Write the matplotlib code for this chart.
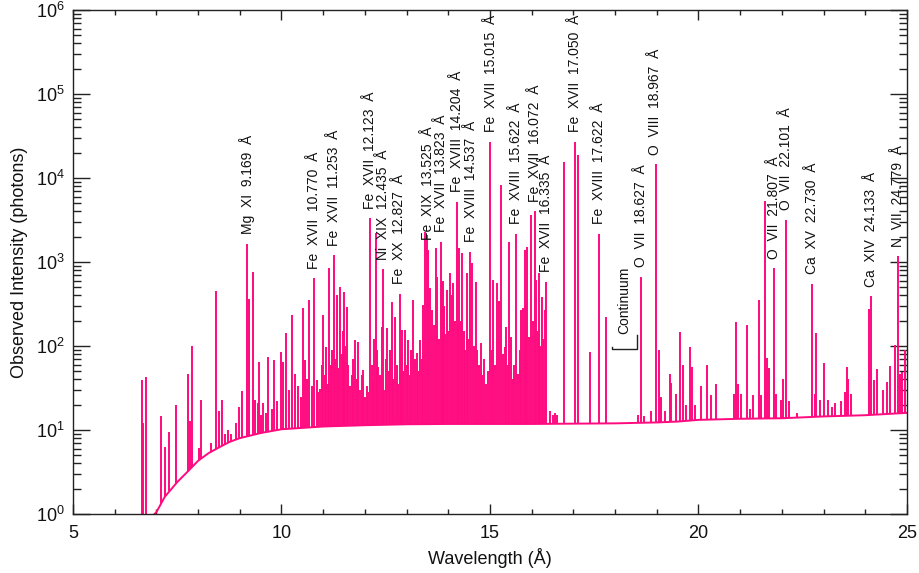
import numpy as np
import matplotlib
matplotlib.use("Agg")
import matplotlib.pyplot as plt
from matplotlib.ticker import FixedLocator, MultipleLocator, LogLocator, NullFormatter

plt.rcParams['font.family'] = ['Liberation Sans', 'DejaVu Sans']
plt.rcParams['mathtext.fontset'] = 'custom'
plt.rcParams['mathtext.rm'] = 'Liberation Sans'
plt.rcParams['mathtext.it'] = 'Liberation Sans'
plt.rcParams['mathtext.default'] = 'regular'

# ---------------- data ----------------
cont_wl = [6.60, 6.80, 7.00, 7.20, 7.50, 7.75, 8.00, 8.25, 8.50, 8.75, 9.00, 9.50,
           10.0, 11.0, 12.0, 13.0, 14.0, 15.0, 16.0, 17.0, 18.0, 19.0, 19.5, 20.0,
           21.0, 22.0, 23.0, 24.0, 25.0]
cont_val = [0.6, 0.85, 1.05, 1.6, 2.4, 3.2, 4.3, 5.3, 6.2, 7.2, 8.0, 9.2,
            10.2, 11.0, 11.4, 11.7, 11.8, 11.8, 11.8, 11.9, 12.0, 12.3, 12.6, 13.2,
            13.6, 13.8, 14.5, 15.0, 16.0]

line_wl = [
    6.65, 6.69, 6.74, 7.10, 7.20, 7.31, 7.46, 7.75, 7.81, 7.85, 8.01, 8.06, 8.30,
    8.42, 8.49, 8.57, 8.65, 8.72, 8.80, 8.90, 8.97, 9.06, 9.17, 9.23, 9.31, 9.37,
    9.44, 9.47, 9.52, 9.56, 9.62, 9.68, 9.77, 9.83, 9.90, 9.98, 10.03,
    10.11, 10.18, 10.25, 10.32, 10.40, 10.46, 10.51, 10.56, 10.62, 10.67, 10.72,
    10.78, 10.84, 10.88, 10.92, 10.96, 11.00, 11.04, 11.07, 11.11, 11.14, 11.18,
    11.22, 11.26, 11.29, 11.32, 11.36, 11.40, 11.44, 11.47, 11.50, 11.53, 11.56,
    11.60, 11.64, 11.68, 11.72, 11.76, 11.80, 11.84, 11.88, 11.92, 11.96, 12.00,
    12.04, 12.08,
    12.12, 12.16, 12.19, 12.22, 12.26, 12.29, 12.32, 12.36, 12.40, 12.43, 12.46,
    12.50, 12.54, 12.58, 12.61, 12.64, 12.68, 12.72, 12.76, 12.79, 12.83, 12.86,
    12.88, 12.92, 12.96, 13.00, 13.04, 13.08, 13.11, 13.15, 13.20, 13.24, 13.28,
    13.32, 13.36, 13.40, 13.45, 13.49, 13.52, 13.55, 13.60, 13.65, 13.70, 13.74,
    13.78, 13.82, 13.85, 13.87, 13.90, 13.93, 13.96, 14.00, 14.04, 14.08, 14.12,
    14.16, 14.20, 14.23, 14.26, 14.30, 14.34, 14.38, 14.41, 14.44, 14.48, 14.53,
    14.58, 14.62, 14.66, 14.70, 14.74, 14.78, 14.82, 14.86, 14.90, 14.95,
    15.01, 15.05, 15.08, 15.12, 15.17, 15.21, 15.26, 15.30, 15.35, 15.39, 15.42,
    15.46, 15.50, 15.54, 15.58, 15.62, 15.67, 15.71, 15.75, 15.79, 15.83, 15.86,
    15.89, 15.94, 15.99, 16.03, 16.07, 16.11, 16.14, 16.17, 16.21, 16.25, 16.28,
    16.31, 16.35, 16.45, 16.50, 16.55, 16.60,
    16.78, 17.05, 17.10, 17.39, 17.62, 17.77,
    18.55, 18.63, 18.69, 18.87, 18.97, 19.05, 19.11, 19.19, 19.31, 19.35, 19.45,
    19.55, 19.63, 19.70, 19.79, 19.84, 19.92,
    20.05, 20.21, 20.31, 20.43, 20.85, 20.91, 20.95, 21.01, 21.16, 21.23, 21.31,
    21.44, 21.49, 21.60, 21.65, 21.69, 21.81, 21.86, 21.97, 22.02, 22.10, 22.18,
    22.37, 22.73, 22.79, 22.82, 22.91, 23.01, 23.11, 23.19, 23.27, 23.41, 23.51,
    23.55, 23.59, 23.65, 24.08, 24.13, 24.21, 24.29, 24.42, 24.52, 24.59, 24.71,
    24.78, 24.83, 24.88, 24.96]

line_pk = [
    39, 12, 43, 14.7, 6.3, 9.4, 20, 46, 12.9, 100, 6.1, 23, 7,
    450, 17, 23, 9, 10, 9, 12, 19, 29, 1660, 360, 760, 23,
    21, 65, 15, 21, 16, 73, 18, 69, 22, 85, 65,
    142, 30, 235, 47, 33, 25, 280, 68, 40, 350, 33,
    640, 39, 28, 31, 60, 235, 45, 98, 35, 840, 60,
    90, 1200, 70, 410, 55, 500, 80, 150, 445, 100, 290,
    60, 33, 45, 70, 117, 40, 112, 30, 45, 52, 25,
    33, 28,
    3300, 60, 39, 120, 2200, 90, 57, 45, 170, 820, 30,
    70, 165, 50, 90, 335, 40, 223, 60, 35, 420, 80,
    155, 50, 155, 60, 117, 45, 90, 350, 70, 82, 50,
    117, 70, 310, 2300, 2100, 1400, 490, 270, 180, 1450, 670,
    120, 1750, 560, 600, 300, 140, 465, 150, 730, 410, 560,
    200, 5200, 180, 1450, 200, 1270, 150, 90, 730, 120, 1320,
    970, 100, 580, 90, 60, 110, 45, 70, 35, 50,
    27000, 90, 610, 60, 560, 340, 8200, 80, 98, 170, 60,
    1750, 128, 40, 60, 2150, 47, 90, 270, 280, 1400, 300,
    1500, 128, 3600, 200, 4000, 610, 150, 730, 100, 385, 120,
    270, 580, 17, 15, 16, 15,
    15700, 27000, 19000, 85, 2150, 220,
    15, 670, 14.5, 17, 14500, 90, 25, 17, 47, 36, 27,
    148, 59, 20, 98, 57, 20,
    33, 59, 26, 35, 27, 195, 35, 27, 178, 18, 26,
    350, 26, 5350, 71, 54, 840, 27, 23, 40, 3200, 22,
    16, 545, 27, 141, 23, 62, 23, 19, 21, 22, 28,
    56, 41, 27, 275, 390, 39, 53, 30, 37, 58, 103,
    1170, 47, 49, 90]

label_text = ["Mg  XI  9.169  Å", "Fe  XVII  10.770  Å", "Fe  XVII  11.253  Å",
              "Fe  XVII  12.123  Å", "Ni  XIX  12.435  Å", "Fe  XX  12.827  Å",
              "Fe  XIX  13.525  Å", "Fe  XVII  13.823  Å", "Fe  XVIII  14.204  Å",
              "Fe  XVIII  14.537  Å", "Fe  XVII  15.015  Å", "Fe  XVIII  15.622  Å",
              "Fe  XVII  16.072  Å", "Fe  XVII  16.335  Å", "Fe  XVII  17.050  Å",
              "Fe  XVIII  17.622  Å", "O  VII  18.627  Å", "O  VIII  18.967  Å",
              "O  VII  21.807  Å", "O  VII  22.101  Å", "Ca  XV  22.730  Å",
              "Ca  XIV  24.133  Å", "N  VII  24.779  Å"]
label_wl = [9.169, 10.770, 11.253, 12.123, 12.435, 12.827, 13.525, 13.823, 14.204,
            14.537, 15.015, 15.622, 16.072, 16.335, 17.050, 17.622, 18.627, 18.967,
            21.807, 22.101, 22.730, 24.133, 24.779]

continuum_band = [17.93, 18.53]
continuum_text = "Continuum"

xticks = [5, 10, 15, 20, 25]
yticks = [1e0, 1e1, 1e2, 1e3, 1e4, 1e5, 1e6]
ytick_labels = [r'$10^{0}$', r'$10^{1}$', r'$10^{2}$', r'$10^{3}$', r'$10^{4}$',
                r'$10^{5}$', r'$10^{6}$']

# ---------------- plot ----------------
pink = '#ff0a7f'
fig = plt.figure(figsize=(9.2, 5.73), dpi=100)
ax = fig.add_axes([73/920, 59/573, 834/920, 504/573])
ax.set_yscale('log')
ax.set_xlim(5, 25)
ax.set_ylim(1, 1e6)

lw_arr = np.array(line_wl)
lp_arr = np.array(line_pk)
base = np.interp(lw_arr, cont_wl, cont_val)
ax.plot(cont_wl, cont_val, color=pink, lw=1.4, solid_joinstyle='miter')
ax.vlines(lw_arr, base, lp_arr, color=pink, lw=1.4)

for txt, wl in zip(label_text, label_wl):
    near = np.abs(lw_arr - wl) < 0.035
    pk = lp_arr[near].max() if near.any() else np.interp(wl, lw_arr, lp_arr)
    ax.annotate(txt, xy=(wl, pk), xytext=(0, 7.0), textcoords='offset points',
                rotation=90, ha='center', va='bottom', fontsize=10, color='#111111')

# continuum band marker
y0 = 93
ax.plot([continuum_band[0], continuum_band[0], continuum_band[1], continuum_band[1]],
        [y0 * 1.06, y0, y0, y0 * 1.45], color='#222222', lw=1.0)
ax.text(np.mean(continuum_band), y0 * 1.5, continuum_text, rotation=90,
        ha='center', va='bottom', fontsize=10, color='#111111')

ax.xaxis.set_major_locator(FixedLocator(xticks))
ax.xaxis.set_minor_locator(MultipleLocator(1))
ax.yaxis.set_major_locator(FixedLocator(yticks))
ax.yaxis.set_major_formatter(matplotlib.ticker.FixedFormatter(ytick_labels))
ax.yaxis.set_minor_locator(LogLocator(base=10, subs=np.arange(2, 10), numticks=20))
ax.yaxis.set_minor_formatter(NullFormatter())

ax.tick_params(axis='both', which='both', direction='in', top=True, right=True,
               colors='#222222', labelcolor='#111111', labelsize=13)
ax.tick_params(axis='x', which='major', length=7.2, width=1.0, pad=8)
ax.tick_params(axis='x', which='minor', length=3.6, width=1.0)
ax.tick_params(axis='y', which='major', length=12, width=1.0, pad=6)
ax.tick_params(axis='y', which='minor', length=6, width=1.0)
for s in ax.spines.values():
    s.set_linewidth(1.0)
    s.set_color('#222222')

ax.set_xlabel('Wavelength (Å)', fontsize=13, color='#111111', labelpad=4)
ax.set_ylabel('Observed Intensity (photons)', fontsize=13, color='#111111', labelpad=6)

fig.savefig('out.png', dpi=100)
